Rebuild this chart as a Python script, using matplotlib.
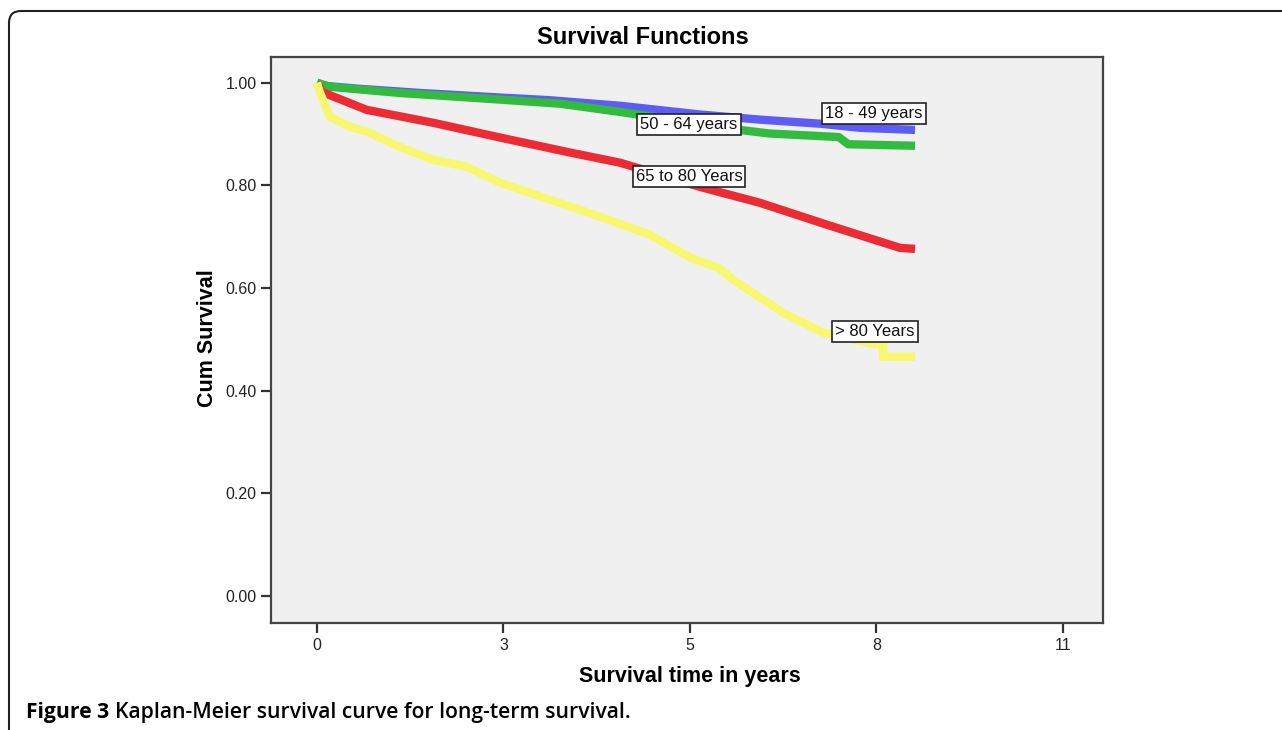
import matplotlib
matplotlib.use("Agg")
import matplotlib.pyplot as plt
from matplotlib.patches import FancyBboxPatch
import numpy as np

# survival data (time in years, cumulative survival)
t_1849 = [0.0, 0.10, 0.63, 1.51, 2.69, 3.40, 4.45, 5.62, 6.50, 7.39, 7.97, 8.78]
s_1849 = [1.0, 0.994, 0.988, 0.980, 0.971, 0.966, 0.955, 0.938, 0.928, 0.920, 0.912, 0.908]

t_5064 = [0.0, 0.19, 1.21, 2.69, 3.57, 4.45, 5.62, 6.20, 6.64, 7.66, 7.80, 8.78]
s_5064 = [1.0, 0.992, 0.980, 0.967, 0.959, 0.943, 0.920, 0.908, 0.901, 0.894, 0.880, 0.877]

t_6580 = [0.0, 0.07, 0.73, 1.70, 2.69, 3.71, 4.45, 5.62, 6.50, 7.49, 8.56, 8.78]
s_6580 = [1.0, 0.982, 0.947, 0.922, 0.893, 0.864, 0.844, 0.797, 0.766, 0.723, 0.678, 0.676]

t_80 = [0.0, 0.04, 0.19, 0.48, 0.73, 1.21, 1.70, 2.20, 2.69, 3.42, 4.15, 4.88, 5.48, 5.90, 6.11, 6.84, 7.43, 8.08, 8.31, 8.31, 8.78]
s_80 = [1.0, 0.982, 0.934, 0.914, 0.905, 0.875, 0.850, 0.836, 0.805, 0.772, 0.739, 0.704, 0.659, 0.639, 0.616, 0.552, 0.513, 0.493, 0.488, 0.466, 0.466]

groups = ["18 - 49 years", "50 - 64 years", "65 to 80 Years", "> 80 Years"]
colors = ["#5d5df5", "#33bb3f", "#ec2b35", "#f8f870"]
label_pos = [(8.18, 0.940), (5.46, 0.918), (5.46, 0.817), (8.19, 0.516)]

# x ticks are every 1000 days, shown rounded to years
tick_pos = np.arange(0, 5) * 1000 / 365.25
tick_lab = ["0", "3", "5", "8", "11"]

fig = plt.figure(figsize=(12.82, 7.30), dpi=100)
ax = fig.add_axes([0.2114, 0.1466, 0.649, 0.7753])
ax.set_facecolor("#f0f0f0")

series = [(t_1849, s_1849), (t_5064, s_5064), (t_6580, s_6580), (t_80, s_80)]
for (t, s), c in zip(series, colors):
    ax.plot(t, s, color=c, lw=6, solid_capstyle="butt", solid_joinstyle="miter")

for g, (x, y) in zip(groups, label_pos):
    ax.text(x, y, g, ha="center", va="center", fontsize=12, family="Liberation Sans",
            color="#111111",
            bbox=dict(boxstyle="square,pad=0.18", fc="white", ec="#222222", lw=1.2))

ax.set_xlim(-0.675, 11.54)
ax.set_ylim(-0.053, 1.05)
ax.set_xticks(tick_pos)
ax.set_xticklabels(tick_lab)
ax.set_yticks([0, 0.2, 0.4, 0.6, 0.8, 1.0])
ax.set_yticklabels(["0.00", "0.20", "0.40", "0.60", "0.80", "1.00"])
ax.tick_params(direction="out", length=7, width=1.6, color="#333333",
               labelsize=11.5, labelcolor="#222222")
for lab in ax.get_xticklabels() + ax.get_yticklabels():
    lab.set_family("Liberation Sans")
for sp in ax.spines.values():
    sp.set_color("#444444")
    sp.set_linewidth(1.6)

fig.text(0.5016, 0.949, "Survival Functions", ha="center", va="center",
         fontsize=17, fontweight="bold", family="Liberation Sans")
fig.text(0.538, 0.073, "Survival time in years", ha="center", va="center",
         fontsize=15.5, fontweight="bold", family="Liberation Sans")
fig.text(0.162, 0.537, "Cum Survival", ha="center", va="center", rotation=90,
         fontsize=15.5, fontweight="bold", family="Liberation Sans")

# caption
cap1 = fig.text(0.0203, 0.016, "Figure 3 ", ha="left", va="baseline",
                fontsize=15.2, fontweight="bold", family="Open Sans")
fig.canvas.draw()
bb = cap1.get_window_extent()
fig.text(bb.x1 / fig.bbox.width, 0.016, "Kaplan-Meier survival curve for long-term survival.",
         ha="left", va="baseline", fontsize=15.2, fontweight="semibold", family="Open Sans")

# frame around the figure panel
frame = FancyBboxPatch((0.09, -0.5), 13.5, 7.19 + 0.5, boxstyle="round,pad=0,rounding_size=0.12",
                       transform=fig.dpi_scale_trans, fill=False, ec="#222222", lw=1.5)
fig.patches.append(frame)

plt.savefig("out.png", dpi=100)
